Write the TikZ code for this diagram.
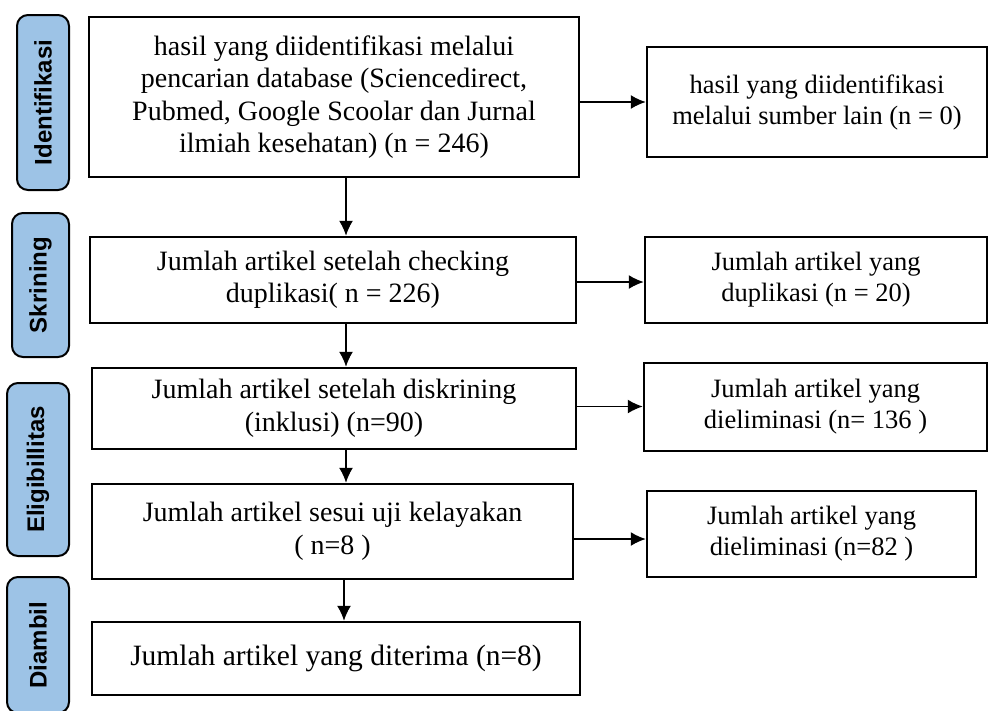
\documentclass[tikz,border=0pt]{standalone}
\usepackage{fontspec}
\setmainfont{Liberation Serif}
\newfontfamily\stagefont{Liberation Sans}
\usetikzlibrary{arrows.meta}
\definecolor{stageblue}{RGB}{157,195,230}

\begin{document}
\begin{tikzpicture}[x=1pt, y=-1pt, >={Latex[length=15pt,width=14pt]},
		box/.style={draw, line width=2.5pt, align=center, inner sep=0pt, font=\fontsize{28}{32.5}\selectfont},
		sidebox/.style={draw, line width=2.5pt, align=center, inner sep=0pt, font=\fontsize{26.5}{31}\selectfont},
		stage/.style={draw, line width=2pt, rounded corners=11pt, fill=stageblue, rotate=90, inner sep=0pt, font=\stagefont\bfseries\fontsize{24}{27}\selectfont},
		flow/.style={->, line width=1.5pt}]
		% 1. Fix the page (990 x 710)
		\useasboundingbox (0,0) rectangle (990,710);

		% 2. Stage labels on the left
		\node[stage, minimum width=175pt, minimum height=52pt] (st1) at (43,102.5) {Identifikasi};
		\node[stage, minimum width=144pt, minimum height=57pt] (st2) at (40.5,285) {Skrining};
		\node[stage, minimum width=173pt, minimum height=62pt] (st3) at (38,469.5) {Eligibillitas};
		\node[stage, minimum width=136pt, minimum height=62pt] (st4) at (38,645) {Diambil};

		% 3. Main column
		\node[box, minimum width=490pt, minimum height=160pt] (b1) at (334,97)
			{hasil yang diidentifikasi melalui\\ pencarian database (Sciencedirect,\\ Pubmed, Google Scoolar dan Jurnal\\ ilmiah kesehatan) (n = 246)};
		\node[box, minimum width=486pt, minimum height=86pt] (b2) at (333,280)
			{Jumlah artikel setelah checking\\ duplikasi( n = 226)};
		\node[box, minimum width=484pt, minimum height=81pt] (b3) at (334,408.5)
			{Jumlah artikel setelah diskrining\\ (inklusi) (n=90)};
		\node[box, minimum width=481pt, minimum height=95pt] (b4) at (332.5,531.5)
			{Jumlah artikel sesui uji kelayakan\\ ( n=8 )};
		\node[box, minimum width=488pt, minimum height=73pt, font=\fontsize{29.5}{34}\selectfont] (b5) at (336,658.5)
			{Jumlah artikel yang diterima (n=8)};

		% 4. Side column
		\node[sidebox, minimum width=340pt, minimum height=110pt] (r1) at (817,102)
			{hasil yang diidentifikasi\\ melalui sumber lain (n = 0)};
		\node[sidebox, minimum width=342pt, minimum height=86pt] (r2) at (816,280)
			{Jumlah artikel yang\\ duplikasi (n = 20)};
		\node[sidebox, minimum width=343pt, minimum height=88pt] (r3) at (815.5,407)
			{Jumlah artikel yang\\ dieliminasi (n= 136 )};
		\node[sidebox, minimum width=329pt, minimum height=86pt] (r4) at (811.5,534)
			{Jumlah artikel yang\\ dieliminasi (n=82 )};

		% 5. Arrows down the main column
		\draw[flow] ([xshift=12pt]b1.south) -- ([xshift=12pt]b1.south |- b2.north);
		\draw[flow] ([xshift=13pt]b2.south) -- ([xshift=13pt]b2.south |- b3.north);
		\draw[flow] ([xshift=12pt]b3.south) -- ([xshift=12pt]b3.south |- b4.north);
		\draw[flow] ([xshift=11.5pt]b4.south) -- ([xshift=11.5pt]b4.south |- b5.north);

		% 6. Arrows to the side column
		\draw[flow] (b1.east |- r1.west) -- (r1.west);
		\draw[flow] ([yshift=-2pt]b2.east) -- ([yshift=-2pt]b2.east -| r2.west);
		\draw[flow] ([yshift=2pt]b3.east) -- ([yshift=2pt]b3.east -| r3.west);
		\draw[flow] ([yshift=-7.5pt]b4.east) -- ([yshift=-7.5pt]b4.east -| r4.west);
	\end{tikzpicture}
\end{document}
